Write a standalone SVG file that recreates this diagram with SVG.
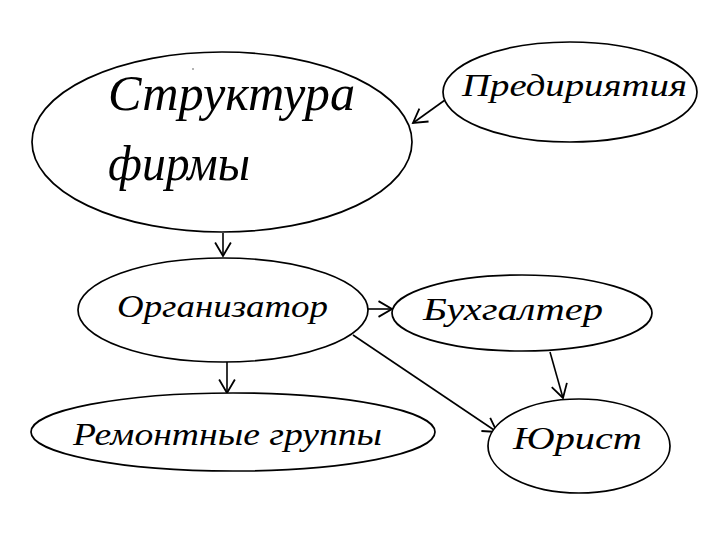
<svg xmlns="http://www.w3.org/2000/svg" width="702" height="536" viewBox="0 0 702 536">
<defs>
<style>
.node ellipse{fill:#fff;stroke:#000;stroke-width:1.7}
.node text{font-family:"Liberation Serif","DejaVu Serif",serif;font-style:italic;fill:#000}
.edge{fill:none;stroke:#000;stroke-width:1.6}
</style>
<marker id="arr" markerUnits="userSpaceOnUse" markerWidth="18" markerHeight="18" refX="13" refY="8" orient="auto" viewBox="0 0 16 16">
<path d="M1,1 L13,8 L1,15" fill="none" stroke="#000" stroke-width="1.6"/>
</marker>
</defs>
<rect width="702" height="536" fill="#fff"/>
<g id="connectors">
<line class="edge" x1="445" y1="100" x2="413" y2="123" marker-end="url(#arr)"/>
<line class="edge" x1="223" y1="233" x2="223" y2="256" marker-end="url(#arr)"/>
<line class="edge" x1="368" y1="309" x2="392" y2="309" marker-end="url(#arr)"/>
<line class="edge" x1="227" y1="362" x2="227" y2="393" marker-end="url(#arr)"/>
<line class="edge" x1="353" y1="335" x2="497" y2="432" marker-end="url(#arr)"/>
<line class="edge" x1="550" y1="352" x2="563" y2="398" marker-end="url(#arr)"/>
</g>
<g id="node-struktura" class="node">
<ellipse cx="222" cy="142" rx="190" ry="90"/>
<text x="108" y="110" font-size="50" textLength="247" lengthAdjust="spacingAndGlyphs">Структура</text>
<text x="108" y="180" font-size="50" textLength="142" lengthAdjust="spacingAndGlyphs">фирмы</text>
</g>
<circle cx="193" cy="69" r="0.8" fill="#555"/>
<g id="node-predpriyatiya" class="node">
<ellipse cx="570" cy="92" rx="127" ry="50"/>
<text x="462" y="96" font-size="32" textLength="225" lengthAdjust="spacingAndGlyphs">Предириятия</text>
</g>
<g id="node-organizator" class="node">
<ellipse cx="223" cy="310" rx="145" ry="52"/>
<text x="117" y="317" font-size="32" textLength="211" lengthAdjust="spacingAndGlyphs">Организатор</text>
</g>
<g id="node-buhgalter" class="node">
<ellipse cx="522" cy="313" rx="130" ry="38"/>
<text x="423" y="320" font-size="32" textLength="180" lengthAdjust="spacingAndGlyphs">Бухгалтер</text>
</g>
<g id="node-remont" class="node">
<ellipse cx="233" cy="432" rx="202" ry="39"/>
<text x="73" y="445" font-size="32" textLength="309" lengthAdjust="spacingAndGlyphs">Ремонтные группы</text>
</g>
<g id="node-yurist" class="node">
<ellipse cx="579" cy="446" rx="91" ry="47"/>
<text x="513" y="449" font-size="32" textLength="129" lengthAdjust="spacingAndGlyphs">Юрист</text>
</g>
</svg>
